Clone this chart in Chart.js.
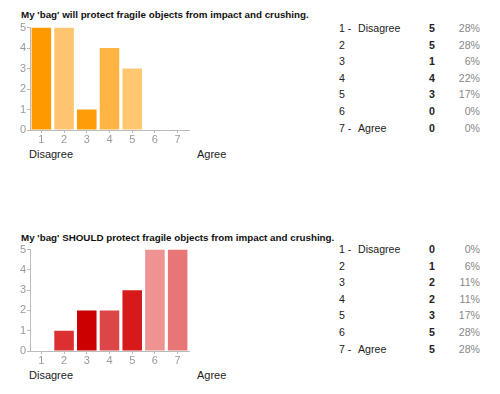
<!DOCTYPE html>
<html>
<head>
<meta charset="utf-8">
<script src="https://cdn.jsdelivr.net/npm/chart.js@4"></script>
<style>
  body { margin: 0; background: #fff; font-family: "Liberation Sans", Arial, sans-serif; }
  #page { position: relative; width: 500px; height: 394px; overflow: hidden; }
  .title { position: absolute; left: 21px; font-size: 9.8px; font-weight: bold; color: #111; white-space: nowrap; }
  .end { position: absolute; font-size: 11px; color: #222; }
  .chartbox { position: absolute; left: 0; width: 191px; }
  .row { position: absolute; font-size: 10.6px; color: #222; height: 12px; line-height: 12px; }
  .cnt { position: absolute; font-size: 10.6px; font-weight: bold; color: #222; width: 12px; text-align: center; line-height: 12px; }
  .pct { position: absolute; font-size: 10.6px; color: #888; width: 40px; text-align: right; line-height: 12px; }
</style>
</head>
<body>
<div id="page">
  <div class="title" style="top:9px">My 'bag' will protect fragile objects from impact and crushing.</div>
  <div class="chartbox" style="top:20px;height:128px"><canvas id="chart1"></canvas></div>
  <div class="end" style="left:29px;top:148px">Disagree</div>
  <div class="end" style="left:197px;top:148px">Agree</div>

  <div class="title" style="top:232px">My 'bag' SHOULD protect fragile objects from impact and crushing.</div>
  <div class="chartbox" style="top:242px;height:127px"><canvas id="chart2"></canvas></div>
  <div class="end" style="left:29px;top:369px">Disagree</div>
  <div class="end" style="left:197px;top:369px">Agree</div>
</div>
<script>
var levels = ['1', '2', '3', '4', '5', '6', '7'];
var levelNames = ['Disagree', '', '', '', '', '', 'Agree'];
var yTicks = [0, 1, 2, 3, 4, 5];

var willCounts = [5, 5, 1, 4, 3, 0, 0];
var willPercents = ['28%', '28%', '6%', '22%', '17%', '0%', '0%'];
var willColors = ['#ff9900', '#ffc470', '#ff9c08', '#ffb444', '#ffc870', '#ffc470', '#ffc470'];

var shouldCounts = [0, 1, 2, 2, 3, 5, 5];
var shouldPercents = ['0%', '6%', '11%', '11%', '17%', '28%', '28%'];
var shouldColors = ['#dc3030', '#dc3030', '#cc0000', '#dc4646', '#d61a1a', '#ee9292', '#e87676'];

function BuildBarChart(id, values, colors) {
  var ctx = document.getElementById(id).getContext('2d');
  var myChart = new Chart(ctx, {
    type: 'bar',
    data: {
      labels: levels,
      datasets: [{
        data: values,
        backgroundColor: colors,
        borderWidth: 0,
        barPercentage: 0.86,
        categoryPercentage: 1
      }]
    },
    options: {
      responsive: true,
      maintainAspectRatio: false,
      animation: false,
      layout: { padding: { top: 5, right: 2, left: 0, bottom: 0 } },
      plugins: { legend: { display: false }, tooltip: { enabled: false } },
      scales: {
        x: {
          grid: { drawOnChartArea: false, offset: false, tickLength: 3, color: '#bbb' },
          border: { display: true, color: '#bbb' },
          ticks: { color: '#999', font: { size: 11, family: 'Liberation Sans' }, padding: 0 },
          afterFit: function(scale) { scale.height = 18; }
        },
        y: {
          min: 0,
          max: 5,
          afterBuildTicks: function(scale) { scale.ticks = yTicks.map(function(v) { return { value: v }; }); },
          grid: { drawOnChartArea: false, tickLength: 3, color: '#bbb' },
          border: { display: true, color: '#bbb' },
          ticks: { color: '#999', font: { size: 11, family: 'Liberation Sans' }, padding: 1 },
          afterFit: function(scale) { scale.width = 30; }
        }
      }
    }
  });
  return myChart;
}

// table at the right, built from the same arrays
function BuildTable(top, counts, percents) {
  var page = document.getElementById('page');
  for (var i = 0; i < levels.length; i++) {
    var y = top + i * 16.6;
    var lab = document.createElement('div');
    lab.className = 'row';
    lab.style.left = '339px';
    lab.style.top = y + 'px';
    lab.textContent = levels[i] + (levelNames[i] ? ' -' : '');
    page.appendChild(lab);
    if (levelNames[i]) {
      var nm = document.createElement('div');
      nm.className = 'row';
      nm.style.left = '358px';
      nm.style.top = y + 'px';
      nm.textContent = levelNames[i];
      page.appendChild(nm);
    }
    var c = document.createElement('div');
    c.className = 'cnt';
    c.style.left = '426px';
    c.style.top = y + 'px';
    c.textContent = counts[i];
    page.appendChild(c);
    var p = document.createElement('div');
    p.className = 'pct';
    p.style.left = '440px';
    p.style.top = y + 'px';
    p.textContent = percents[i];
    page.appendChild(p);
  }
}

BuildBarChart('chart1', willCounts, willColors);
BuildBarChart('chart2', shouldCounts, shouldColors);
BuildTable(22, willCounts, willPercents);
BuildTable(243, shouldCounts, shouldPercents);
</script>
</body>
</html>
